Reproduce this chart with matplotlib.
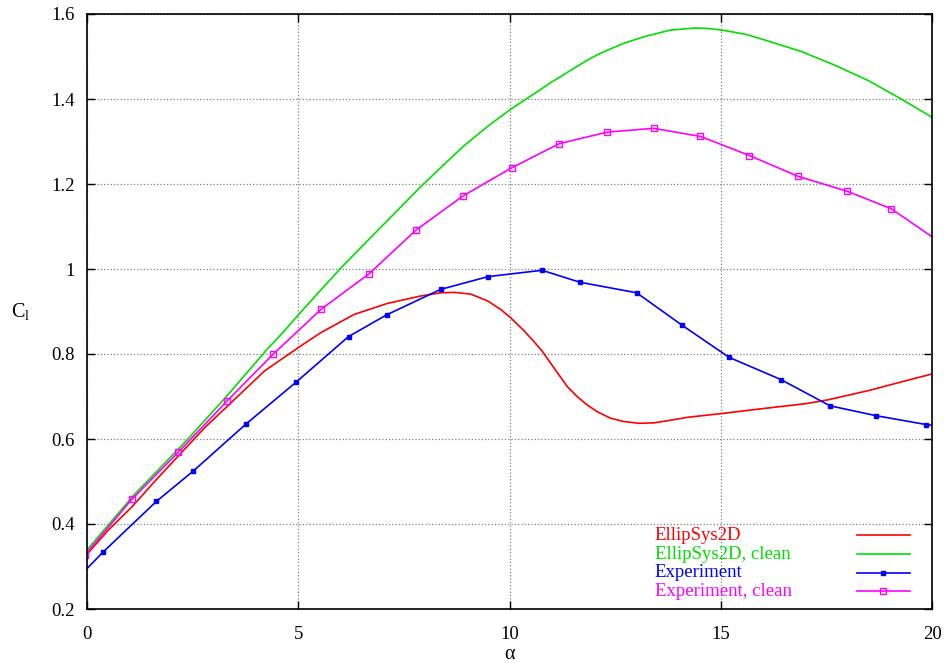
import numpy as np
import matplotlib
matplotlib.use("Agg")
import matplotlib.pyplot as plt
from matplotlib.ticker import FormatStrFormatter

plt.rcParams['font.family'] = ['Liberation Serif', 'DejaVu Serif']
plt.rcParams['mathtext.fontset'] = 'custom'
plt.rcParams['mathtext.rm'] = 'Liberation Serif'

# --- data ---
# EllipSys2D (smooth CFD curve)
ell_alpha = [0.0, 0.5, 1.07, 1.6, 2.16, 2.8, 3.48, 4.2, 5.0, 5.53, 6.32, 7.11,
             7.90, 8.37, 8.7, 9.08, 9.48, 9.79, 10.02, 10.35, 10.58, 10.78,
             11.09, 11.37, 11.60, 11.84, 12.08, 12.39, 12.71, 13.06, 13.42,
             13.74, 14.21, 15.03, 15.95, 17.0, 17.53, 18.5, 19.3, 20.0]
ell_cl = [0.329, 0.385, 0.441, 0.500, 0.560, 0.628, 0.692, 0.760, 0.815, 0.850,
          0.893, 0.919, 0.9365, 0.944, 0.945, 0.941, 0.925, 0.905, 0.886, 0.854,
          0.829, 0.806, 0.762, 0.723, 0.700, 0.680, 0.664, 0.649, 0.641, 0.637,
          0.638, 0.643, 0.651, 0.660, 0.671, 0.683, 0.692, 0.714, 0.735, 0.753]

# EllipSys2D, clean
ellc_alpha = [0.0, 1.11, 2.37, 3.3, 4.27, 4.66, 5.0, 6.0, 7.9, 8.9, 9.5, 10.0,
              11.0, 11.85, 12.16, 12.7, 13.2, 13.8, 14.37, 14.7, 15.04, 15.6,
              16.1, 16.9, 17.69, 18.5, 19.27, 20.05]
ellc_cl = [0.339, 0.468, 0.598, 0.700, 0.812, 0.853, 0.892, 1.0015, 1.194, 1.288,
           1.337, 1.374, 1.440, 1.492, 1.508, 1.531, 1.547, 1.562, 1.567, 1.566,
           1.562, 1.552, 1.537, 1.512, 1.480, 1.443, 1.400, 1.354]

# Experiment
exp_alpha = [-0.88, 0.37, 1.64, 2.52, 3.76, 4.94, 6.19, 7.09, 8.37, 9.49, 10.77,
             11.66, 13.01, 14.08, 15.20, 16.42, 17.59, 18.67, 19.86, 21.0]
exp_cl = [0.205, 0.333, 0.453, 0.525, 0.635, 0.733, 0.841, 0.892, 0.952, 0.982,
          0.997, 0.969, 0.944, 0.868, 0.792, 0.740, 0.678, 0.655, 0.634, 0.620]

# Experiment, clean
expc_alpha = [-0.05, 1.07, 2.16, 3.31, 4.40, 5.55, 6.68, 7.78, 8.90, 10.05, 11.18,
              12.31, 13.41, 14.52, 15.68, 16.83, 17.99, 19.03, 20.13]
expc_cl = [0.327, 0.459, 0.569, 0.689, 0.799, 0.906, 0.989, 1.091, 1.172, 1.238,
           1.295, 1.322, 1.331, 1.312, 1.267, 1.218, 1.183, 1.142, 1.067]

labels = ['EllipSys2D', 'EllipSys2D, clean', 'Experiment', 'Experiment, clean']
colors = ['#ff0000', '#00e000', '#0000ff', '#ff00ff']

fig = plt.figure(figsize=(9.52, 6.70), dpi=100)
ax = fig.add_axes([87 / 952, 1 - 609 / 670, 845 / 952, 595 / 670])

lw = 1.2
fs = 13.5
ax.plot(ell_alpha, ell_cl, color=colors[0], lw=lw)
ax.plot(ellc_alpha, ellc_cl, color=colors[1], lw=lw)
ax.plot(exp_alpha, exp_cl, color=colors[2], lw=lw, marker='s', ms=3.5,
        mfc=colors[2], mec=colors[2])
ax.plot(expc_alpha, expc_cl, color=colors[3], lw=lw, marker='s', ms=4.5,
        mfc='none', mec=colors[3], mew=1.0)

ax.set_xlim(0, 20)
ax.set_ylim(0.2, 1.6)
ax.set_xticks(np.arange(0, 21, 5))
ax.set_yticks(np.arange(0.2, 1.61, 0.2))
ax.yaxis.set_major_formatter(FormatStrFormatter('%g'))
ax.tick_params(direction='in', length=6, width=1, top=True, right=True,
               labelsize=fs)
ax.tick_params(axis='y', pad=9)
ax.tick_params(axis='x', pad=12)
ax.grid(True, linestyle=':', color='#808080', lw=0.9)
for s in ax.spines.values():
    s.set_linewidth(1.2)

ax.set_xlabel('α', fontsize=fs + 1)
ax.xaxis.set_label_coords(0.5, -0.06)
ax.set_ylabel(r'C$_\mathrm{l}$', fontsize=fs + 1, rotation=0)
ax.yaxis.set_label_coords(-0.078, 0.48)

# legend, gnuplot style: text left, sample line right
rows = [0.1237, 0.0924, 0.0610, 0.0296]
styles = [dict(), dict(), dict(marker='s', ms=3.5, mfc=colors[2], mec=colors[2]),
          dict(marker='s', ms=4.5, mfc='none', mec=colors[3], mew=1.0)]
for lab, col, yy, st in zip(labels, colors, rows, styles):
    ax.text(0.672, yy, lab, color=col, fontsize=fs, va='center', ha='left',
            transform=ax.transAxes)
    ax.plot([0.911, 0.974], [yy, yy], color=col, lw=lw, transform=ax.transAxes)
    if st:
        ax.plot([0.942], [yy], color=col, lw=0, transform=ax.transAxes, **st)

fig.savefig('out.png', dpi=100)
